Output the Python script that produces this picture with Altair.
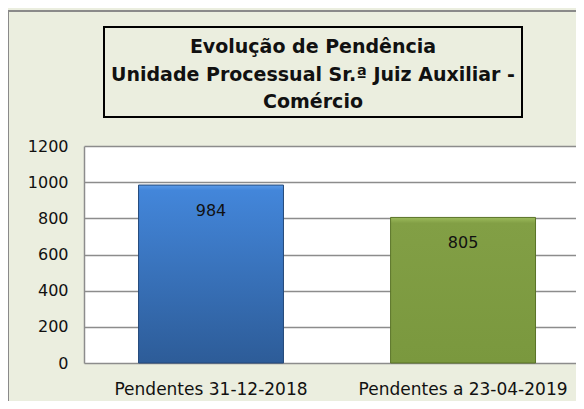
import altair as alt
import pandas as pd

categories = ["Pendentes 31-12-2018", "Pendentes a 23-04-2019"]
values = [984, 805]
title_lines = ["Evolução de Pendência", "Unidade Processual Sr.ª Juiz Auxiliar -", "Comércio"]
y_ticks = [0, 200, 400, 600, 800, 1000, 1200]

df = pd.DataFrame({"cat": categories, "val": values})

FONT = "DejaVu Sans"
BG = "#EBEEDF"

xenc = alt.X("cat:N", sort=categories, title=None,
             scale=alt.Scale(paddingInner=0.425, paddingOuter=0.1885, align=0.574),
             axis=alt.Axis(labelAngle=0, labelFontSize=17, labelFont=FONT, labelColor="#111",
                           labelPadding=18, labelLimit=0, labelOverlap=False, labelBound=False,
                           ticks=False, domain=False, grid=False))
yenc = alt.Y("val:Q", title=None,
             scale=alt.Scale(domain=[0, 1200], nice=False),
             axis=alt.Axis(values=y_ticks, format="d", labelOverlap=False, labelFontSize=16,
                           labelFont=FONT, labelColor="#111", tickCount=7,
                           labelPadding=16, ticks=False, domainColor="#8c8c8c", domainWidth=1.5,
                           gridColor="#8c8c8c", gridWidth=1.5))

base = alt.Chart(df)

blue_grad = {"gradient": "linear", "x1": 0, "y1": 0, "x2": 0, "y2": 1,
             "stops": [{"offset": 0, "color": "#5C9BE8"}, {"offset": 0.03, "color": "#4386DA"},
                       {"offset": 1, "color": "#2D5C98"}]}
green_grad = {"gradient": "linear", "x1": 0, "y1": 0, "x2": 0, "y2": 1,
              "stops": [{"offset": 0, "color": "#9CBB5C"}, {"offset": 0.04, "color": "#829F45"},
                        {"offset": 1, "color": "#7A983E"}]}

bar1 = base.transform_filter(alt.datum.cat == categories[0]).mark_bar(
    fill=blue_grad, stroke="#24497A", strokeWidth=1).encode(x=xenc, y=yenc)
bar2 = base.transform_filter(alt.datum.cat == categories[1]).mark_bar(
    fill=green_grad, stroke="#5A7327", strokeWidth=1).encode(x=xenc, y=yenc)

labels = base.mark_text(baseline="middle", dy=26, fontSize=16, font=FONT, color="#111").encode(
    x=xenc, y=yenc, text="val:Q")

deco = alt.Chart(pd.DataFrame({"k": [0]}))
frame = deco.mark_rect(fill=None, stroke="#8a8a8a", strokeWidth=2).encode(
    x=alt.value(-76), x2=alt.value(600), y=alt.value(-135), y2=alt.value(300))
title_box = deco.mark_rect(fill=None, stroke="#000", strokeWidth=2).encode(
    x=alt.value(20), x2=alt.value(438), y=alt.value(-119), y2=alt.value(-29))
title_text = deco.mark_text(font=FONT, fontSize=19, fontWeight="bold", color="#111",
                            align="center", baseline="middle", lineHeight=27.5).encode(
    x=alt.value(229), y=alt.value(-99), text=alt.value(title_lines))

chart = alt.layer(frame, title_box, title_text, bar1, bar2, labels).properties(
    width=492, height=217,
    autosize=alt.AutoSizeParams(type="none"),
    padding={"left": 76, "top": 138, "right": 0, "bottom": 38},
    background=BG,
).configure_view(fill="white", stroke=None)

chart.save("out.html", embed_options={"renderer": "svg", "actions": False})
